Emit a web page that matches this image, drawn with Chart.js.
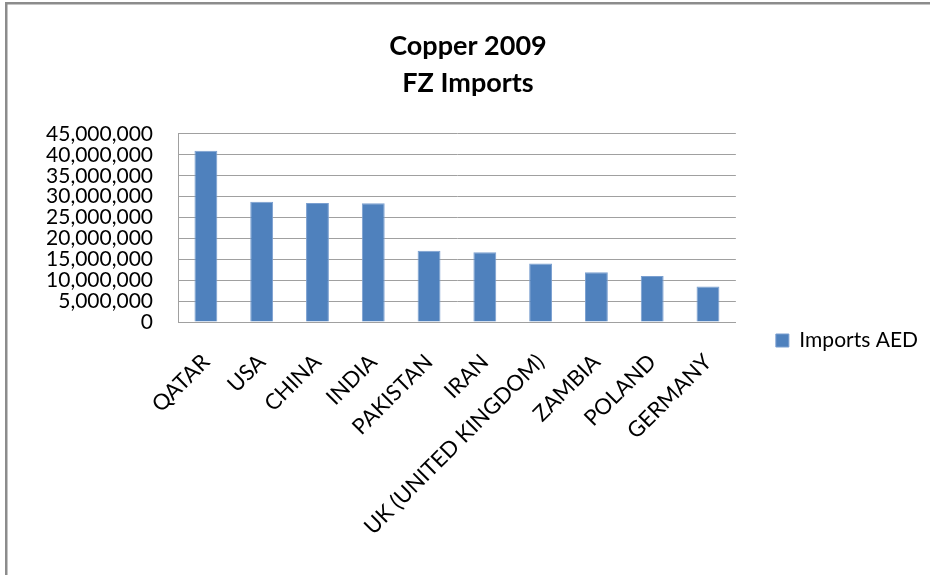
<!DOCTYPE html>
<html>
<head>
<meta charset="utf-8">
<script src="https://cdn.jsdelivr.net/npm/chart.js@4/dist/chart.umd.min.js"></script>
<style>
html,body{margin:0;padding:0;background:#fff;}
#wrap{position:relative;width:930px;height:575px;}
</style>
</head>
<body>
<div id="wrap"><canvas id="c" width="930" height="575"></canvas></div>
<script>
const categories = ['QATAR','USA','CHINA','INDIA','PAKISTAN','IRAN','UK (UNITED KINGDOM)','ZAMBIA','POLAND','GERMANY'];
const importsAED = [41000000, 28800000, 28500000, 28400000, 17050000, 16700000, 14000000, 11900000, 11000000, 8500000];
const seriesName = 'Imports AED';
const titleLines = ['Copper 2009', 'FZ Imports'];
const yMin = 0;
const yMax = 45000000;
const yStep = 5000000;

const framePlugin = {
  id: 'frame',
  beforeDraw(chart) {
    const ctx = chart.ctx;
    ctx.save();
    ctx.fillStyle = '#ffffff';
    ctx.fillRect(0, 0, chart.width, chart.height);
    ctx.fillStyle = '#8c8c8c';
    ctx.fillRect(5, 2, chart.width - 5, 2.5);
    ctx.fillRect(5, 2, 2.5, chart.height - 2);
    ctx.restore();
  }
};

const FONT = 'Lato, "Open Sans", sans-serif';

new Chart(document.getElementById('c'), {
  type: 'bar',
  data: {
    labels: categories,
    datasets: [{
      label: seriesName,
      data: importsAED,
      backgroundColor: '#4F81BD',
      borderColor: '#7a9fd0',
      borderWidth: 1,
      barPercentage: 0.41,
      categoryPercentage: 1.0
    }]
  },
  options: {
    responsive: false,
    animation: false,
    devicePixelRatio: 1,
    layout: { padding: { left: 8, right: 2, top: 0, bottom: 0 } },
    plugins: {
      tooltip: { enabled: false },
      title: {
        display: true,
        text: titleLines,
        color: '#000',
        font: { family: FONT, size: 27, weight: 'bold', lineHeight: 1.37 },
        padding: { top: 28, bottom: 32 }
      },
      legend: {
        display: true,
        position: 'right',
        align: 'start',
        title: { display: true, text: ' ', font: { size: 10, lineHeight: 1.2 }, padding: { top: 278, bottom: 0 } },
        labels: {
          boxWidth: 13,
          boxHeight: 13,
          padding: 40,
          color: '#000',
          font: { family: FONT, size: 21 }
        }
      }
    },
    scales: {
      x: {
        grid: { display: false, drawTicks: false },
        border: { display: true, color: '#a0a0a0', width: 1 },
        ticks: {
          color: '#000',
          font: { family: FONT, size: 22 },
          maxRotation: 45,
          minRotation: 45,
          autoSkip: false,
          padding: 27
        },
        afterFit(scale) { scale.height = 253; }
      },
      y: {
        min: yMin,
        max: yMax,
        grid: { color: '#a0a0a0', lineWidth: 1, drawTicks: false },
        border: { display: true, color: '#a0a0a0', width: 1 },
        ticks: {
          stepSize: yStep,
          color: '#000',
          font: { family: FONT, size: 21 },
          padding: 25,
          autoSkip: false,
          callback: (v) => Number(v).toLocaleString('en-US')
        },
        afterFit(scale) { scale.width = 170; }
      }
    }
  },
  plugins: [framePlugin]
});
</script>
</body>
</html>
